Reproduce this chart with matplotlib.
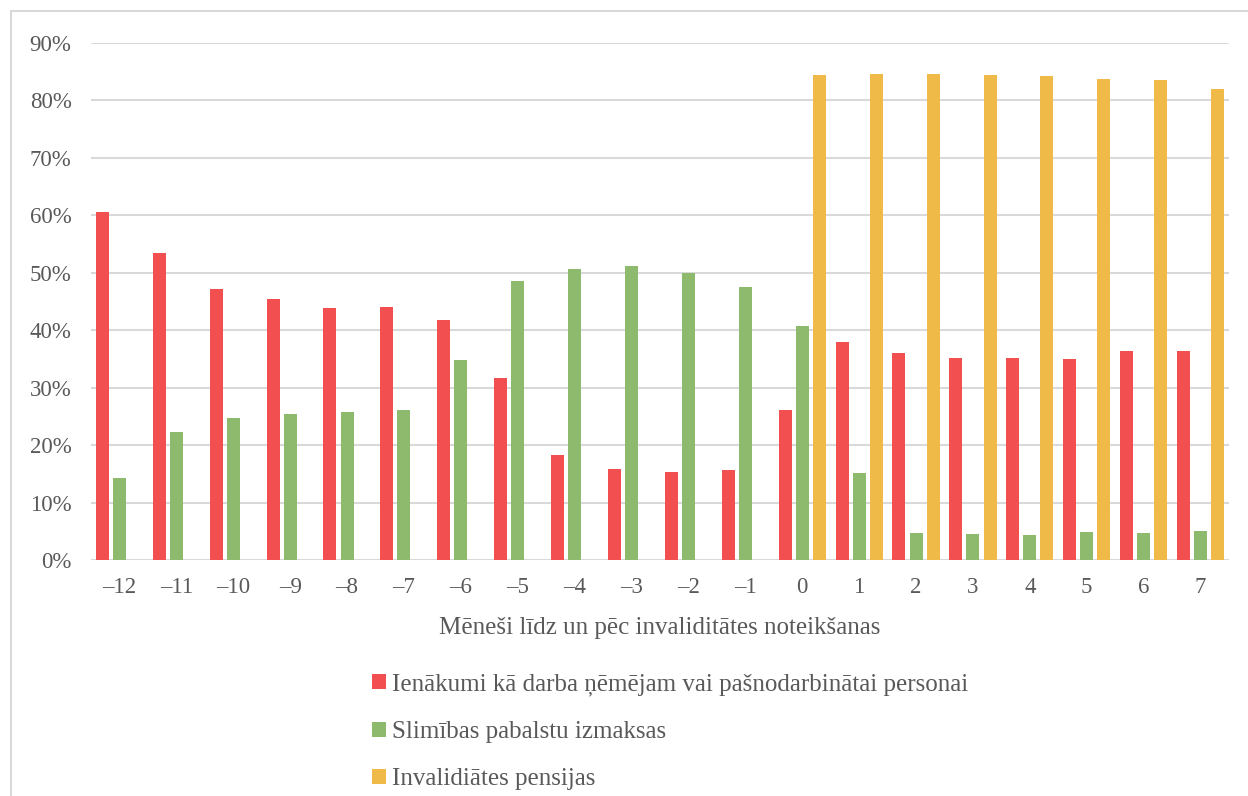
import matplotlib.pyplot as plt
from matplotlib.patches import Rectangle
import numpy as np

# mēneši līdz un pēc invaliditātes noteikšanas
menesi = list(range(-12, 8))
ienakumi = [60.6, 53.5, 47.1, 45.4, 43.8, 44.0, 41.8, 31.6, 18.2, 15.8,
            15.4, 15.6, 26.1, 38.0, 36.1, 35.2, 35.1, 35.0, 36.4, 36.3]
slimibas = [14.3, 22.3, 24.8, 25.4, 25.8, 26.1, 34.9, 48.5, 50.6, 51.2,
            50.0, 47.5, 40.7, 15.1, 4.7, 4.5, 4.4, 4.8, 4.7, 5.1]
pensijas = [None] * 12 + [84.4, 84.6, 84.6, 84.5, 84.3, 83.7, 83.5, 82.0]

serijas = [
    ('Ienākumi kā darba ņēmējam vai pašnodarbinātai personai', ienakumi, '#F25050'),
    ('Slimības pabalstu izmaksas', slimibas, '#8EBA6E'),
    ('Invalidiātes pensijas', pensijas, '#EFBA47'),
]
y_ticks = [0, 10, 20, 30, 40, 50, 60, 70, 80, 90]

plt.rcParams['font.family'] = ['Liberation Serif', 'DejaVu Serif']
teksts = '#595959'
W, H = 1248, 796
fig = plt.figure(figsize=(W / 100, H / 100), dpi=100)

# rāmis ap visu diagrammu
fig.patches.append(Rectangle((11 / W, -0.1), 1.2, 1 - 11 / H + 0.1,
                             transform=fig.transFigure, fill=False,
                             edgecolor='#D9D9D9', lw=1.5))

ax = fig.add_axes([91 / W, (H - 560) / H, (1229 - 91) / W, (560 - 43) / H])
x = np.arange(len(menesi))
bar_w = 0.228
for i, (nos, vals, col) in enumerate(serijas):
    xs = [xi + (i - 1) * 0.3 for xi, v in zip(x, vals) if v is not None]
    ys = [v for v in vals if v is not None]
    ax.bar(xs, ys, width=bar_w, color=col, label=nos, zorder=3)

ax.set_xlim(-0.5, len(menesi) - 0.5)
ax.set_ylim(0, 90)
ax.set_yticks(y_ticks)
ax.set_yticklabels([f'{t}%' for t in y_ticks])
ax.set_xticks(x)
ax.set_xticklabels([f'\u2013{-m}' if m < 0 else str(m) for m in menesi])
ax.tick_params(length=0, labelsize=16.5, colors=teksts)
ax.tick_params(axis='y', pad=14)
ax.tick_params(axis='x', pad=12)
for s in ax.spines.values():
    s.set_visible(False)
ax.grid(axis='y', color='#D9D9D9', lw=1.5, zorder=0)
ax.set_xlabel('Mēneši līdz un pēc invaliditātes noteikšanas', fontsize=18,
              color=teksts, labelpad=14)

leg = fig.legend(loc='upper left', bbox_to_anchor=(349 / W, 1 - 651 / H),
                 frameon=False, fontsize=18, labelcolor=teksts,
                 handlelength=0.56, handleheight=0.56, handletextpad=0.25,
                 labelspacing=1.0)

fig.savefig('out.png', dpi=100)
